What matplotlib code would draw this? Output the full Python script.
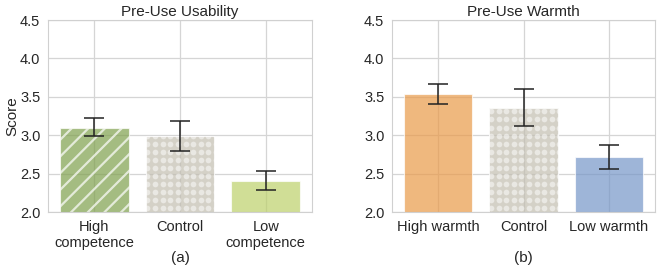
import numpy as np
import matplotlib.pyplot as plt
import seaborn as sns

# values
usab_labels = ["High\ncompetence", "Control", "Low\ncompetence"]
usab_mean = [3.10, 2.99, 2.40]
usab_lo = [2.99, 2.79, 2.29]
usab_hi = [3.22, 3.19, 2.53]

warm_labels = ["High warmth", "Control", "Low warmth"]
warm_mean = [3.53, 3.35, 2.71]
warm_lo = [3.41, 3.12, 2.56]
warm_hi = [3.67, 3.60, 2.87]

sns.set_style("whitegrid")
plt.rcParams['font.family'] = ['Arial', 'Liberation Sans', 'DejaVu Sans']
plt.rcParams['hatch.linewidth'] = 1.6

fig = plt.figure(figsize=(6.64, 2.75), dpi=100)

ax1 = fig.add_axes([48/664, 1-212/275, 264/664, 192/275])
ax2 = fig.add_axes([392/664, 1-212/275, 263/664, 192/275])


def dot_fill(ax, bar):
    # polka-dot texture for the control bar, clipped to the bar
    x0, w = bar.get_x(), bar.get_width()
    ymin = ax.get_ylim()[0]
    gx = np.arange(x0 + 0.02, x0 + w + 0.05, 0.089)
    gy = np.arange(ymin + 0.05, bar.get_height() + 0.06, 0.105)
    xx, yy = np.meshgrid(gx, gy)
    sc = ax.scatter(xx.ravel(), yy.ravel(), s=17, color="white", alpha=0.5,
                    linewidths=0, zorder=2.5)
    sc.set_clip_path(bar)


def draw(ax, labels, mean, lo, hi, colors, hatches, title):
    x = np.arange(len(labels))
    mean = np.array(mean)
    err = [mean - np.array(lo), np.array(hi) - mean]
    ax.set_ylim(2.0, 4.5)
    for i in range(len(x)):
        h = hatches[i] if hatches[i] != "dots" else None
        bars = ax.bar(x[i], mean[i], width=0.8, color=colors[i], alpha=0.7,
                      edgecolor="white", linewidth=0.8, hatch=h, zorder=2)
        if hatches[i] == "dots":
            dot_fill(ax, bars[0])
    ax.errorbar(x, mean, yerr=err, fmt="none", ecolor="#222222",
                elinewidth=1.1, capsize=7, capthick=1.1, zorder=3)
    ax.set_xlim(-0.54, 2.54)
    ax.set_ylim(2.0, 4.5)
    ax.set_yticks(np.arange(2.0, 4.51, 0.5))
    ax.set_xticks(x)
    ax.set_xticklabels(labels)
    ax.set_title(title, fontsize=11, pad=3, color="#262626")
    ax.tick_params(axis="both", labelsize=10.5, colors="#262626", pad=2)
    ax.grid(True, color="#d5d5d5", linewidth=0.9)
    for s in ax.spines.values():
        s.set_color("#d0d0d0")
    ax.set_axisbelow(True)


draw(ax1, usab_labels, usab_mean, usab_lo, usab_hi,
     ["#7ea04c", "#c2beb0", "#bcd06a"], ["//", "dots", None], "Pre-Use Usability")
draw(ax2, warm_labels, warm_mean, warm_lo, warm_hi,
     ["#e99a48", "#c2beb0", "#7596c8"], [None, "dots", None], "Pre-Use Warmth")

ax1.set_ylabel("Score", fontsize=11, color="#262626", va="center")
ax1.yaxis.set_label_coords(-36/264, 0.5)

fig.text(180/664, 1-258/275, "(a)", ha="center", va="center", fontsize=11, color="#262626")
fig.text(523/664, 1-258/275, "(b)", ha="center", va="center", fontsize=11, color="#262626")

fig.savefig("out.png", dpi=100)
